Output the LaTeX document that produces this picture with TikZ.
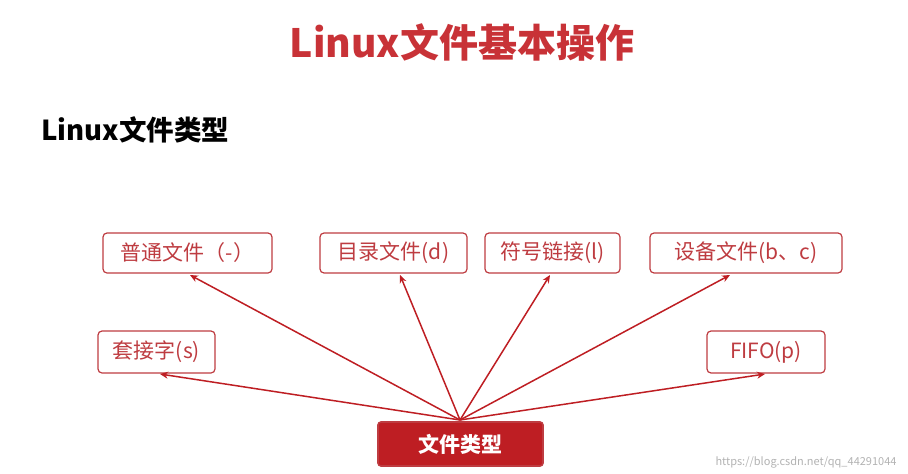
\documentclass[tikz,border=0pt]{standalone}
\usepackage{fontspec}
\setmainfont{Noto Sans CJK SC}
\usetikzlibrary{arrows.meta}
\definecolor{tred}{RGB}{200,50,55}
\definecolor{bred}{RGB}{190,60,65}
\definecolor{fred}{RGB}{190,30,35}
\tikzset{
 box/.style={draw=bred,text=bred,line width=1.2pt,rounded corners=4pt,fill=white,inner sep=0pt,font=\fontsize{21}{24}\selectfont},
 arr/.style={draw=fred,line width=1.5pt,-{Stealth[length=8pt,width=7pt]}}
}
\begin{document}
\begin{tikzpicture}[x=1pt,y=-1pt]
\useasboundingbox (0,0) rectangle (908,474);
\node[text=tred,font=\fontsize{39}{43}\selectfont\bfseries] (title) at (462,42) {Linux文件基本操作};
\node[anchor=west,font=\fontsize{27.5}{30}\selectfont\bfseries] (sub) at (38,130) {Linux文件类型};
\node[box,minimum width=169pt,minimum height=40pt] (a) at (187.5,253) {普通文件（-）};
\node[box,minimum width=147pt,minimum height=40pt] (b) at (393.5,253) {目录文件(d)};
\node[box,minimum width=135pt,minimum height=40pt] (c) at (552.5,253) {符号链接(l)};
\node[box,minimum width=192pt,minimum height=40pt] (d) at (746,253) {设备文件(b、c)};
\node[box,minimum width=117pt,minimum height=42pt] (e) at (156.5,352) {套接字(s)};
\node[box,minimum width=118pt,minimum height=42pt] (f) at (766,352) {FIFO(p)};
\node[draw=bred,line width=1.6pt,rounded corners=3pt,fill=fred,text=white,minimum width=165pt,minimum height=44pt,font=\fontsize{21}{24}\selectfont\bfseries] (g) at (460.5,444) {文件类型};
\coordinate (o) at (460,420);
\draw[arr] (o) -- (190,275);
\draw[arr] (o) -- (400,275);
\draw[arr] (o) -- (550,275);
\draw[arr] (o) -- (730,275);
\draw[arr] (o) -- (160,374);
\draw[arr] (o) -- (765,374);
\node[anchor=east,text=gray!60,font=\fontsize{11}{13}\selectfont] (w) at (900,462) {https://blog.csdn.net/qq\_44291044};
\end{tikzpicture}
\end{document}
